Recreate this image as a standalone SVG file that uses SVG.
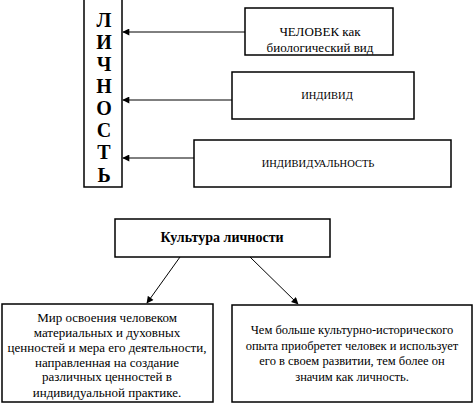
<svg xmlns="http://www.w3.org/2000/svg" width="474" height="404" viewBox="0 0 474 404">
<defs>
<marker id="ah" viewBox="0 0 10 10" refX="9" refY="5" markerWidth="8" markerHeight="7" markerUnits="userSpaceOnUse" orient="auto">
<path d="M0,0 L10,5 L0,10 z" fill="#000"/>
</marker>
<style>
.box{fill:#fff;stroke:#000;stroke-width:1.5}
.c{stroke:#000;stroke-width:1;fill:none;marker-end:url(#ah)}
</style>
</defs>
<rect width="474" height="404" fill="#fff"/>
<g font-family="'Liberation Serif', serif" fill="#000" text-anchor="middle">
<g id="lichnost" font-weight="bold" font-size="20">
<rect class="box" x="84" y="-2" width="38" height="189"/>
<text x="104" y="27">Л</text>
<text x="104" y="49">И</text>
<text x="104" y="71">Ч</text>
<text x="104" y="93">Н</text>
<text x="104" y="115">О</text>
<text x="104" y="137">С</text>
<text x="104" y="159">Т</text>
<text x="104" y="182">Ь</text>
</g>
<g id="chelovek" font-size="13">
<rect class="box" x="245" y="8" width="148" height="47"/>
<text x="320" y="36">ЧЕЛОВЕК как</text>
<text x="320" y="52">биологический вид</text>
</g>
<g id="individ" font-size="10.5">
<rect class="box" x="232" y="72" width="182" height="47"/>
<text x="327" y="99">ИНДИВИД</text>
</g>
<g id="individualnost" font-size="10.5">
<rect class="box" x="194" y="140" width="257" height="47"/>
<text x="318" y="167">ИНДИВИДУАЛЬНОСТЬ</text>
</g>
<g id="kultura" font-weight="bold" font-size="14">
<rect class="box" x="115" y="219" width="215" height="38"/>
<text x="222" y="242">Культура личности</text>
</g>
<g id="mir" font-size="13">
<rect class="box" x="2" y="304" width="211" height="98"/>
<text x="107" y="322">Мир освоения человеком</text>
<text x="107" y="337">материальных и духовных</text>
<text x="107" y="352">ценностей и мера его деятельности,</text>
<text x="107" y="367">направленная на создание</text>
<text x="107" y="381">различных ценностей в</text>
<text x="107" y="397">индивидуальной практике.</text>
</g>
<g id="chem" font-size="12.5">
<rect class="box" x="232" y="305" width="240" height="97"/>
<text x="352" y="334">Чем больше культурно-исторического</text>
<text x="352" y="350">опыта приобретет человек и использует</text>
<text x="352" y="365">его в своем развитии, тем более он</text>
<text x="352" y="381">значим как личность.</text>
</g>
</g>
<g id="connectors">
<line class="c" x1="245" y1="32" x2="123" y2="32"/>
<line class="c" x1="232" y1="100" x2="123" y2="100"/>
<line class="c" x1="194" y1="158" x2="123" y2="158"/>
<line class="c" x1="180" y1="257" x2="147" y2="303"/>
<line class="c" x1="250" y1="257" x2="298" y2="304"/>
</g>
</svg>
